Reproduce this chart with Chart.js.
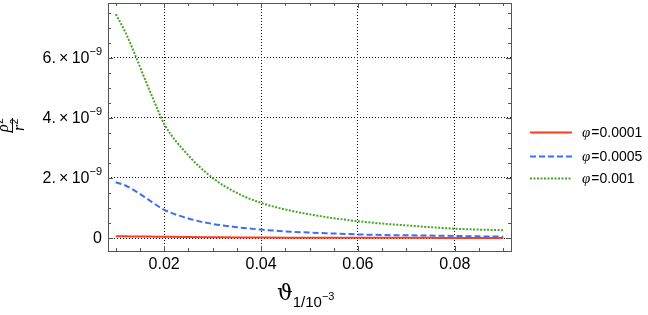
<!DOCTYPE html>
<html>
<head>
<meta charset="utf-8">
<script src="https://cdn.jsdelivr.net/npm/chart.js@4/dist/chart.umd.min.js"></script>
<style>
  html, body { margin: 0; padding: 0; background: #fff; }
  #wrap { width: 648px; height: 315px; }
</style>
</head>
<body>
<div id="wrap"><canvas id="chart"></canvas></div>
<script>
// x values (theta_1 / 10^-3)
var xs = [0.01, 0.012, 0.014, 0.016, 0.018, 0.02, 0.025, 0.03, 0.035, 0.04, 0.045, 0.05, 0.055, 0.06, 0.065, 0.07, 0.075, 0.08, 0.085, 0.09];
// rho^2 / r^2 in units of 1e-9
var phi1 = [0.06, 0.055, 0.052, 0.048, 0.044, 0.04, 0.031, 0.025, 0.019, 0.015, 0.012, 0.01, 0.008, 0.007, 0.006, 0.005, 0.0045, 0.004, 0.0035, 0.003];
var phi5 = [1.86, 1.75, 1.57, 1.36, 1.14, 0.94, 0.65, 0.47, 0.36, 0.28, 0.22, 0.18, 0.15, 0.12, 0.1, 0.09, 0.08, 0.07, 0.055, 0.045];
var phi10 = [7.46, 6.85, 6.1, 5.3, 4.53, 3.8, 2.75, 2.0, 1.5, 1.17, 0.95, 0.79, 0.66, 0.56, 0.48, 0.42, 0.36, 0.31, 0.28, 0.26];
var seriesLabels = ['φ=0.0001', 'φ=0.0005', 'φ=0.001'];

var xMajor = [0.02, 0.04, 0.06, 0.08];
var xLabels = ['0.02', '0.04', '0.06', '0.08'];
var yMajor = [0, 2, 4, 6];
var yLabels = [['0', ''], ['2.\u2009\u00d7\u200910', '\u22129'], ['4.\u2009\u00d7\u200910', '\u22129'], ['6.\u2009\u00d7\u200910', '\u22129']];

function pts(ys) {
    return xs.map(function(x, i) { return { x: x, y: ys[i] }; });
}
function isMajor(v, list) {
    return list.some(function(m) { return Math.abs(m - v) < 1e-9; });
}

// frame, inward tick marks, y tick labels, axis titles, legend
var decor = {
    id: 'decor',
    afterDraw: function(chart) {
        var c = chart.ctx, a = chart.chartArea;
        var sx = chart.scales.x, sy = chart.scales.y;
        c.save();
        c.strokeStyle = '#555';
        c.lineWidth = 1;
        c.strokeRect(Math.round(a.left) + 0.5, Math.round(a.top) + 0.5, Math.round(a.right - a.left), Math.round(a.bottom - a.top));
        c.beginPath();
        sx.ticks.forEach(function(t) {
            var px = Math.round(sx.getPixelForValue(t.value)) + 0.5;
            var len = isMajor(t.value, xMajor) ? 5 : 3;
            c.moveTo(px, a.bottom); c.lineTo(px, a.bottom - len);
            c.moveTo(px, a.top); c.lineTo(px, a.top + len);
        });
        sy.ticks.forEach(function(t) {
            var py = Math.round(sy.getPixelForValue(t.value)) + 0.5;
            var len = isMajor(t.value, yMajor) ? 5 : 3;
            c.moveTo(a.left, py); c.lineTo(a.left + len, py);
            c.moveTo(a.right, py); c.lineTo(a.right - len, py);
        });
        c.stroke();

        // y tick labels with superscripts
        c.fillStyle = '#000';
        c.textBaseline = 'middle';
        yMajor.forEach(function(v, i) {
            var py = sy.getPixelForValue(v);
            var main = yLabels[i][0], sup = yLabels[i][1];
            var right = a.left - 6;
            c.font = '11px "Liberation Sans", Arial, sans-serif';
            var sw = sup ? c.measureText(sup).width : 0;
            if (sup) {
                c.textAlign = 'right';
                c.fillText(sup, right, py - 6);
            }
            c.font = '16px "Liberation Sans", Arial, sans-serif';
            c.textAlign = 'right';
            c.fillText(main, right - sw, py + 1);
        });

        // x axis title
        c.textAlign = 'left';
        c.textBaseline = 'alphabetic';
        c.font = '22px "DejaVu Serif", serif';
        var x0 = 277;
        c.fillText('\u03d1', x0, 300);
        var w = c.measureText('\u03d1').width;
        c.font = '15px "Liberation Sans", Arial, sans-serif';
        c.fillText('1/10', x0 + w, 307);
        var w2 = c.measureText('1/10').width;
        c.font = '11px "Liberation Sans", Arial, sans-serif';
        c.fillText('\u22123', x0 + w + w2, 300);

        // y axis title: rotated fraction rho^2 / r^2
        c.save();
        c.translate(12, 126);
        c.rotate(-Math.PI / 2);
        c.textAlign = 'left';
        c.font = 'italic 16px "Liberation Serif", serif';
        var rw = c.measureText('\u03c1').width;
        c.fillText('\u03c1', -6, -4);
        c.fillText('r', -5, 12);
        var rw2 = c.measureText('r').width;
        c.font = '10px "Liberation Sans", Arial, sans-serif';
        c.fillText('2', -6 + rw + 0.5, -9);
        c.fillText('2', -5 + rw2 + 0.5, 6);
        c.beginPath();
        c.lineWidth = 1;
        c.strokeStyle = '#000';
        c.moveTo(-7, 0.5); c.lineTo(8, 0.5);
        c.stroke();
        c.restore();

        // legend
        var rows = [132.5, 156.5, 178.5];
        chart.data.datasets.forEach(function(ds, i) {
            c.save();
            c.strokeStyle = ds.borderColor;
            c.lineWidth = ds.borderWidth;
            c.setLineDash(ds.borderDash || []);
            c.beginPath();
            c.moveTo(530, rows[i]); c.lineTo(572, rows[i]);
            c.stroke();
            c.restore();
            c.fillStyle = '#000';
            c.textBaseline = 'middle';
            c.textAlign = 'left';
            c.font = 'italic 15px "Liberation Serif", serif';
            c.fillText(ds.label.charAt(0), 582, rows[i] + 1);
            var pw = c.measureText(ds.label.charAt(0)).width;
            c.font = '14px "Liberation Sans", Arial, sans-serif';
            c.fillText(ds.label.slice(1), 582 + pw + 1, rows[i] + 1);
        });
        c.restore();
    }
};

var ctx = document.getElementById('chart').getContext('2d');
var myChart = new Chart(ctx, {
    type: 'line',
    data: {
        datasets: [{
            label: seriesLabels[0],
            data: pts(phi1),
            borderColor: '#ff3b1d',
            borderWidth: 2,
            pointRadius: 0,
            cubicInterpolationMode: 'monotone'
        }, {
            label: seriesLabels[1],
            data: pts(phi5),
            borderColor: '#3d6ff0',
            borderWidth: 2,
            borderDash: [6, 3],
            pointRadius: 0,
            cubicInterpolationMode: 'monotone'
        }, {
            label: seriesLabels[2],
            data: pts(phi10),
            borderColor: '#45a526',
            borderWidth: 2,
            borderDash: [2, 1.5],
            pointRadius: 0,
            cubicInterpolationMode: 'monotone'
        }]
    },
    options: {
        responsive: true,
        maintainAspectRatio: false,
        animation: false,
        layout: { padding: { top: 3, right: 137, left: 0, bottom: 0 } },
        plugins: {
            legend: { display: false },
            tooltip: { enabled: false }
        },
        scales: {
            x: {
                type: 'linear',
                min: 0.0084,
                max: 0.0916,
                afterBuildTicks: function(scale) {
                    var t = [];
                    for (var k = 2; k <= 18; k++) t.push({ value: k * 0.005 });
                    scale.ticks = t;
                },
                afterFit: function(scale) { scale.height = 64; },
                ticks: {
                    autoSkip: false,
                    maxRotation: 0,
                    padding: 4,
                    color: '#000',
                    font: { family: '"Liberation Sans", Arial, sans-serif', size: 16 },
                    callback: function(v) {
                        for (var i = 0; i < xMajor.length; i++) {
                            if (Math.abs(xMajor[i] - v) < 1e-9) return xLabels[i];
                        }
                        return '';
                    }
                },
                grid: {
                    drawTicks: false,
                    lineWidth: 1,
                    color: function(c) {
                        return c.tick && isMajor(c.tick.value, xMajor) ? '#111' : 'rgba(0,0,0,0)';
                    }
                },
                border: { display: false, dash: [1, 2] }
            },
            y: {
                type: 'linear',
                min: -0.433,
                max: 7.83,
                afterBuildTicks: function(scale) {
                    var t = [];
                    for (var k = 0; k <= 15; k++) t.push({ value: k * 0.5 });
                    scale.ticks = t;
                },
                afterFit: function(scale) { scale.width = 108; },
                ticks: {
                    display: false,
                    autoSkip: false
                },
                grid: {
                    drawTicks: false,
                    lineWidth: 1,
                    color: function(c) {
                        return c.tick && isMajor(c.tick.value, yMajor) ? '#111' : 'rgba(0,0,0,0)';
                    }
                },
                border: { display: false, dash: [1, 2] }
            }
        }
    },
    plugins: [decor]
});
</script>
</body>
</html>
